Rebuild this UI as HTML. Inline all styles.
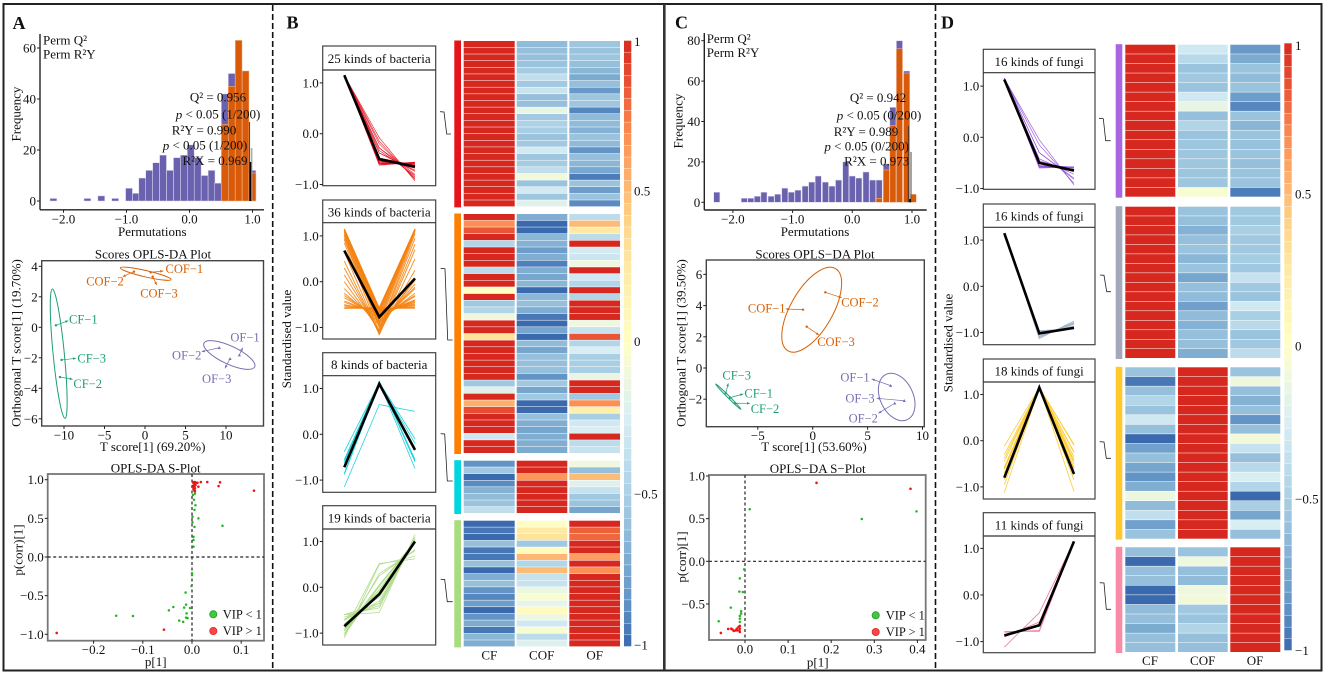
<!DOCTYPE html>
<html lang="en">
<head>
<meta charset="utf-8">
<title>OPLS-DA and clustering figure</title>
<style>
html,body{margin:0;padding:0;background:#fff;}
svg{display:block;font-family:"Liberation Serif",serif;filter:blur(0.3px);}
text{fill:#111;}
</style>
</head>
<body>
<svg id="fig" width="1325" height="675" viewBox="0 0 1325 675" xmlns="http://www.w3.org/2000/svg">
  <rect x="0" y="0" width="1325" height="675" fill="#fff"/>
  <rect x="3.5" y="4" width="1318" height="666.5" fill="none" stroke="#222" stroke-width="2"/>
  <rect x="663" y="4" width="2.6" height="666" fill="#333"/>
  <line x1="272.7" y1="5" x2="272.7" y2="670" stroke="#111" stroke-width="1.6" stroke-dasharray="6 3"/>
  <line x1="935.5" y1="5" x2="935.5" y2="670" stroke="#111" stroke-width="1.6" stroke-dasharray="6 3"/>
  <g id="panelA"></g>
  <g id="panelB"></g>
  <g id="panelC"></g>
  <g id="panelD"></g>
</svg>
<script>
/* ---------- Histogram data ---------- */
const histBinsA=[-2.16,-2.05,-1.94,-1.84,-1.73,-1.62,-1.51,-1.40,-1.29,-1.18,-1.07,-0.96,-0.85,-0.75,-0.64,-0.53,-0.42,-0.31,-0.20,-0.09,0.02,0.13,0.24,0.35,0.45,0.56,0.67,0.78,0.89,1.00];
const histQ2A=[1,0,0,0,0,1,0,2,0,1,0,5,3,9,12,15,18,12,17,18,22,17,10,12,7,42,50,0,0,12];
const histR2YA=[0,0,0,0,0,0,0,0,0,0,0,0,0,0,0,0,0,0,0,0,0,0,0,0,0,30,45,63,51,11];
const histBinsC=[-2.27,-2.15,-2.04,-1.93,-1.81,-1.70,-1.59,-1.48,-1.36,-1.25,-1.13,-1.02,-0.91,-0.79,-0.68,-0.57,-0.45,-0.34,-0.23,-0.11,0.00,0.11,0.23,0.34,0.45,0.57,0.68,0.79,0.91,1.02];
const histQ2C=[5,0,0,0,2,2,3,5,3,4,7,5,6,8,10,13,10,8,11,20,13,12,15,11,11,19,47,80,65,0];
const histR2YC=[0,0,0,0,0,0,0,0,0,0,0,0,0,0,0,0,0,0,0,0,0,0,0,0,2,16,38,76,64,4];
const histXTicks=[-2,-1,0,1];
const histYTicksA=[0,20,40,60];
const histYTicksC=[0,20,40,60,80];

/* ---------- Score plot data ---------- */
const sampleNames=["CF\u22121","CF\u22122","CF\u22123","COF\u22121","COF\u22122","COF\u22123","OF\u22121","OF\u22122","OF\u22123"];
const scoreTA=[-11.0,-10.5,-10.3,0.7,-1.36,0.95,11.65,9.17,10.5];
const scoreOA=[0.13,-3.26,-2.14,3.6,3.65,3.32,-1.82,-1.34,-2.06];
const scoreTC=[-7.53,-7.08,-7.92,-0.88,1.15,-0.55,7.1,7.47,8.34];
const scoreOC=[-1.9,-2.26,-1.62,3.74,4.85,2.65,-1.13,-2.26,-2.1];

/* ---------- S-plot data ---------- */
const sPlotRedXA=[-0.275,-0.057,0.126,0.054,0.057,0.031,0.018,0.011,0.013,0.002,0.003,0.004,0.005,0.006,0.007,0.008,0.003,0.004,0.005,0.006,0.003,0.004,0.005,0.006,0.004,0.005];
const sPlotRedYA=[-0.983,-0.94,0.858,0.918,0.966,0.97,0.97,0.96,0.91,0.97,0.96,0.95,0.94,0.97,0.93,0.96,0.92,0.91,0.9,0.89,0.88,0.87,0.86,0.85,0.95,0.93];
const sPlotGreenXA=[0.062,0.013,0.005,0.001,-0.154,-0.12,-0.047,-0.038,-0.013,-0.012,-0.016,-0.004,-0.011,-0.012,-0.009,-0.026,-0.018,-0.001,0,0,0.003,0.003,0.003,0.007,0.005,0.001,0.004,0.006,0.002];
const sPlotGreenYA=[0.405,0.5,0.39,0.45,-0.76,-0.763,-0.69,-0.647,-0.46,-0.616,-0.655,-0.66,-0.73,-0.785,-0.79,-0.823,-0.84,-0.375,-0.21,-0.235,0.134,0.26,0.22,0.67,0.61,0.52,0.74,0.82,0.8];
const sPlotRedXC=[0.166,0.384,-0.056,-0.039,-0.032,-0.029,-0.026,-0.022,-0.019,-0.015,-0.012,-0.012,-0.012,-0.013,-0.018];
const sPlotRedYC=[0.92,0.85,-0.84,-0.793,-0.79,-0.8,-0.816,-0.81,-0.79,-0.77,-0.758,-0.79,-0.828,-0.81,-0.81];
const sPlotGreenXC=[0.011,0.271,0.398,-0.002,-0.012,-0.013,-0.005,-0.033,-0.061,-0.009,-0.009,-0.012,-0.012,-0.012];
const sPlotGreenYC=[0.61,0.496,0.586,-0.094,-0.2,-0.355,-0.36,-0.543,-0.703,-0.586,-0.613,-0.64,-0.672,-0.71];

/* ---------- Heatmap rows: CF, COF, OF ---------- */
const heatColumns=["CF","COF","OF"];
const rowsB1=[[1.15,-0.62,-0.56],[1.15,-0.6,-0.58],[1.15,-0.6,-0.57],[1.15,-0.58,-0.6],[1.15,-0.52,-0.65],[1.15,-0.38,-0.72],[1.15,-0.54,-0.6],[1.15,-0.33,-0.82],[1.15,-0.6,-0.57],[1.15,-0.6,-0.56],[1.15,-0.15,-0.9],[1.15,-0.54,-0.63],[1.15,-0.48,-0.62],[1.15,-0.5,-0.68],[1.15,-0.58,-0.58],[1.15,-0.54,-0.63],[1.15,-0.28,-0.85],[1.15,-0.56,-0.6],[1.15,-0.52,-0.65],[1.15,-0.38,-0.74],[1.15,-0.08,-0.93],[1.15,-0.58,-0.58],[1.15,-0.28,-0.8],[1.15,-0.56,-0.58],[1.15,-0.2,-0.88]];
const rowsB2=[[1.1,-0.7,-0.4],[0.68,-1.15,0.5],[0.85,-1.1,0.25],[1.05,-0.65,-0.4],[-0.45,-0.68,1.13],[1.08,-0.8,-0.28],[1.02,-0.7,-0.32],[1.0,-0.92,-0.1],[-0.4,-0.7,1.12],[1.1,-0.75,-0.3],[1.1,-0.65,-0.45],[0.0,-1.05,1.0],[1.1,-0.65,-0.45],[-0.55,-0.6,1.15],[-0.45,-0.7,1.15],[-0.1,-0.95,1.05],[1.1,-1.0,-0.1],[1.12,-0.75,-0.35],[0.3,-1.15,0.85],[1.05,-0.62,-0.45],[1.05,-0.75,-0.25],[1.1,-0.6,-0.5],[1.1,-0.6,-0.5],[1.1,-0.6,-0.5],[1.05,-0.85,-0.15],[-0.55,-0.55,1.12],[-0.2,-0.75,1.0],[1.15,-0.55,-0.55],[0.55,-1.1,0.68],[0.88,-1.0,0.18],[1.1,-0.6,-0.5],[1.05,-0.7,-0.3],[1.05,-0.75,-0.25],[-0.3,-0.7,1.05],[1.13,-0.7,-0.4],[1.1,-0.72,-0.35]];
const rowsB3=[[-0.85,1.13,-0.1],[-0.55,1.15,-0.6],[-1.15,0.65,0.5],[-0.88,1.12,-0.2],[-0.68,1.15,-0.35],[-0.62,1.15,-0.55],[-0.58,1.15,-0.58],[-0.38,1.13,-0.75]];
const rowsB4=[[-1.0,0.02,1.0],[-0.95,0.25,0.82],[-1.05,0.3,0.8],[-0.6,-0.55,1.15],[-0.95,0.05,1.0],[-0.95,0.52,0.62],[-0.6,-0.45,1.1],[-1.1,0.5,0.68],[-0.7,-0.35,1.05],[-0.6,-0.35,1.0],[-0.85,-0.12,1.0],[-0.9,-0.05,1.0],[-0.8,-0.15,1.0],[-1.05,0.05,1.0],[-0.85,-0.1,1.0],[-0.72,-0.3,1.05],[-0.95,-0.05,1.0],[-0.65,-0.4,1.05],[-0.7,-0.22,1.0]];
const rowsD1=[[1.15,-0.3,-0.82],[1.15,-0.42,-0.72],[1.15,-0.58,-0.58],[1.15,-0.55,-0.62],[1.15,-0.58,-0.58],[1.15,-0.3,-0.8],[1.15,-0.15,-0.9],[1.15,-0.6,-0.58],[1.15,-0.46,-0.66],[1.15,-0.58,-0.58],[1.15,-0.56,-0.59],[1.15,-0.56,-0.58],[1.15,-0.56,-0.6],[1.15,-0.57,-0.58],[1.15,-0.56,-0.58],[1.15,-0.05,-0.93]];
const rowsD2=[[1.15,-0.58,-0.55],[1.15,-0.6,-0.55],[1.15,-0.68,-0.5],[1.15,-0.6,-0.55],[1.15,-0.58,-0.55],[1.15,-0.65,-0.52],[1.15,-0.58,-0.55],[1.15,-0.75,-0.35],[1.15,-0.6,-0.55],[1.15,-0.62,-0.58],[1.15,-0.78,-0.3],[1.15,-0.62,-0.5],[1.15,-0.68,-0.42],[1.15,-0.6,-0.58],[1.15,-0.6,-0.55],[1.15,-0.7,-0.4]];
const rowsD3=[[-0.58,1.15,-0.58],[-0.95,1.15,-0.1],[-0.6,1.15,-0.6],[-0.45,1.15,-0.68],[-0.58,1.15,-0.6],[-0.3,1.15,-0.85],[-0.6,1.15,-0.6],[-1.12,1.15,-0.08],[-0.78,1.15,-0.35],[-0.6,1.15,-0.6],[-0.75,1.15,-0.42],[-0.85,1.15,-0.25],[-0.7,1.15,-0.45],[-0.12,1.15,-1.1],[-0.62,1.15,-0.5],[-0.38,1.15,-0.75],[-0.78,1.15,-0.25],[-0.58,1.15,-0.6]];
const rowsD4=[[-0.6,-0.58,1.15],[-1.0,-0.1,1.15],[-0.6,-0.6,1.15],[-0.6,-0.62,1.15],[-1.0,-0.1,1.15],[-1.05,-0.08,1.15],[-0.62,-0.55,1.15],[-0.6,-0.58,1.15],[-0.72,-0.46,1.15],[-0.6,-0.6,1.15],[-0.6,-0.6,1.15]];

/* ---------- Trend lines where they differ from the heatmap rows ---------- */
const linesB2=[[1.15,-0.58,-0.58],[1.15,-0.58,-0.56],[1.15,-0.6,-0.55],[1.15,-0.65,-0.5],[1.15,-0.7,-0.45],[1.15,-0.75,-0.4],[1.12,-0.8,-0.32],[1.1,-0.85,-0.25],[1.05,-0.9,-0.15],[1.0,-0.95,-0.05],[0.92,-1.0,0.08],[0.85,-1.1,0.25],[0.65,-1.15,0.5],[0.45,-1.15,0.7],[0.3,-1.12,0.82],[0.15,-1.08,0.95],[0.0,-1.05,1.05],[-0.15,-0.95,1.1],[-0.25,-0.88,1.13],[-0.35,-0.78,1.15],[-0.45,-0.7,1.15],[-0.5,-0.65,1.15],[-0.55,-0.6,1.15],[-0.58,-0.58,1.15],[1.15,-0.65,-0.48],[1.15,-0.72,-0.42],[1.08,-0.78,-0.3],[1.13,-0.68,-0.45],[1.13,-0.62,-0.52],[1.1,-0.7,-0.4],[1.02,-0.88,-0.12],[0.95,-0.98,0.03],[-0.58,-0.56,1.15],[-0.52,-0.62,1.13],[-0.42,-0.72,1.14],[-0.3,-0.82,1.12]];
const linesD2=[[1.15,-1.13,-0.75],[1.15,-1.08,-0.8],[1.15,-1.05,-0.82],[1.15,-1.02,-0.86],[1.15,-1.0,-0.88],[1.15,-0.98,-0.9],[1.15,-0.96,-0.92],[1.15,-1.1,-0.78]];
const linesD4=[[-1.12,-0.38,1.15],[-0.78,-0.78,1.15],[-0.8,-0.76,1.15],[-0.9,-0.58,1.15]];
const meanB1=[1.15,-0.5,-0.65];
const meanB2=[0.68,-0.77,0.07];
const meanB3=[-0.72,1.1,-0.34];
const meanB4=[-0.85,-0.15,1.0];
const meanD1=[1.13,-0.5,-0.65];
const meanD2=[1.15,-1.02,-0.9];
const meanD3=[-0.8,1.15,-0.72];
const meanD4=[-0.87,-0.65,1.15];
const lineTicks=[1,0,-1];

/* ---------- Colour scale tick labels ---------- */
const colorbarTicks=[1,0.5,0,-0.5,-1];

/* ---------- helpers ---------- */
const NS='http://www.w3.org/2000/svg';
const fmt=s=>String(s).replace('-','\u2212');
function svgEl(tag,parent,attrs){
  const el=document.createElementNS(NS,tag);
  for(const k in attrs){el.setAttribute(k,attrs[k]);}
  parent.appendChild(el);
  return el;
}
function group(parent,name){
  const el=svgEl('g',parent,{});
  
  
  return el;
}
function line(parent,x1,y1,x2,y2,stroke,w,name,extra){
  const el=svgEl('line',parent,Object.assign({x1,y1,x2,y2,stroke,'stroke-width':w},extra||{}));
  
  
  return el;
}
function txt(parent,x,y,str,anchor,size,name,opts){
  opts=opts||{};
  const el=svgEl('text',parent,{x,y,'text-anchor':anchor,'font-size':size,'dominant-baseline':opts.base||'central'});
  if(opts.fill){el.style.fill=opts.fill;}
  if(opts.weight){el.setAttribute('font-weight',opts.weight);}
  if(opts.rotate){el.setAttribute('transform','rotate('+opts.rotate+' '+x+' '+y+')');}
  if(opts.html){el.innerHTML=str;}else{el.textContent=str;}
  
  
  return el;
}
function circle(parent,cx,cy,r,fill,name,extra){
  const el=svgEl('circle',parent,Object.assign({cx,cy,r,fill},extra||{}));
  
  
  return el;
}
function rect(parent,x,y,w,h,fill,name,extra){
  const el=svgEl('rect',parent,Object.assign({x,y,width:w,height:h,fill},extra||{}));
  
  
  return el;
}
function polyline(parent,pts,stroke,w,name,extra){
  const el=svgEl('polyline',parent,Object.assign({points:pts.map(p=>p.join(',')).join(' '),fill:'none',stroke,'stroke-width':w},extra||{}));
  
  
  return el;
}
function ellipse(parent,cx,cy,rx,ry,angle,stroke,name){
  const el=svgEl('ellipse',parent,{cx,cy,rx,ry,fill:'none',stroke,'stroke-width':1,transform:'rotate('+angle+' '+cx+' '+cy+')'});
  
  
  return el;
}
function arrowHead(parent,x0,y0,x1,y1,fill){
  const len=Math.hypot(x1-x0,y1-y0)||1, ux=(x1-x0)/len, uy=(y1-y0)/len, s=3;
  const d='M'+x1+' '+y1+'L'+(x1-ux*s-uy*1.3)+' '+(y1-uy*s+ux*1.3)+'L'+(x1-ux*s+uy*1.3)+' '+(y1-uy*s-ux*1.3)+'Z';
  const el=svgEl('path',parent,{d,fill});
  
  
  return el;
}

/* colour ramp */
const rampStops=[[-1,'#3a69ae'],[-0.85,'#6394c6'],[-0.7,'#80aed2'],[-0.55,'#a0c8e0'],[-0.4,'#bcdcec'],[-0.25,'#d9eef3'],[-0.1,'#eff8de'],[0,'#ffffc4'],[0.25,'#feeaa5'],[0.4,'#fed488'],[0.55,'#fdb06c'],[0.7,'#fb8a50'],[0.85,'#ea5535'],[1,'#d7281f']];
function hexRgb(h){return [parseInt(h.substr(1,2),16),parseInt(h.substr(3,2),16),parseInt(h.substr(5,2),16)];}
function heatColor(v){
  v=Math.max(-1,Math.min(1,v));
  for(let i=0;i<rampStops.length-1;i++){
    const a=rampStops[i],b=rampStops[i+1];
    if(v<=b[0]){
      const t=(v-a[0])/(b[0]-a[0]);
      const ca=hexRgb(a[1]),cb=hexRgb(b[1]);
      return 'rgb('+ca.map((c,j)=>Math.round(c+(cb[j]-c)*t)).join(',')+')';
    }
  }
  return rampStops[rampStops.length-1][1];
}

/* histogram */
function drawHist(parent,c){
  const g=group(parent,'permutation-histogram');
  const X=v=>c.x0+c.xu*v, Y=v=>c.y0-c.yu*v;
  const bw=c.binW;
  c.bins.forEach((b,i)=>{
    if(c.q2[i]>0){
      rect(g,X(b)-bw/2,Y(c.q2[i]),bw,Y(0)-Y(c.q2[i]),'#6a62ae','bar-perm-q2',{stroke:'#dcdaf0','stroke-width':0.5});
    }
  });
  c.bins.forEach((b,i)=>{
    if(c.r2y[i]>0){
      rect(g,X(b)-bw/2,Y(c.r2y[i]),bw,Y(0)-Y(c.r2y[i]),'#d95a08','bar-perm-r2y',{stroke:'#f2c3a0','stroke-width':0.5});
    }
  });
  c.refs.forEach(r=>{line(g,r[0],r[1],r[0],Y(0),r[2],r[3],'observed-value-line');});
  line(g,c.axisX,c.axisTop,c.axisX,c.axisY,'#222',1.4,'histogram-y-axis');
  line(g,c.axisX,c.axisY,c.axisR,c.axisY,'#222',1.4,'histogram-x-axis');
  c.xticks.forEach(t=>{
    line(g,X(t),c.axisY,X(t),c.axisY+3,'#222',1,'x-tick');
    txt(g,X(t),c.axisY+9,fmt(t.toFixed(1)),'middle',13,'x-tick-label');
  });
  c.yticks.forEach(t=>{
    line(g,c.axisX-3,Y(t),c.axisX,Y(t),'#222',1,'y-tick');
    txt(g,c.axisX-4,Y(t),String(t),'end',13,'y-tick-label');
  });
  txt(g,c.xLabel[0],c.xLabel[1],'Permutations','middle',13,'x-axis-title');
  txt(g,c.yLabel[0],c.yLabel[1],'Frequency','middle',13,'y-axis-title',{rotate:-90});
  txt(g,c.legend[0],c.legend[1],'Perm Q\u00b2','start',13,'legend-perm-q2');
  txt(g,c.legend[0],c.legend[1]+14,'Perm R\u00b2Y','start',13,'legend-perm-r2y');
  c.notes.forEach(n=>{
    const isP=n[0].indexOf('p ')===0;
    const s=isP?'<tspan font-style="italic">p</tspan>'+n[0].slice(1).replace('<','&lt;'):n[0];
    txt(g,n[1],n[2],s,'middle',13,'stat-annotation',{html:true});
  });
}

/* score plot */
function drawScores(parent,c){
  const g=group(parent,'scores-opls-da-plot');
  const X=v=>c.x0+c.xu*v, Y=v=>c.y0-c.yu*v;
  txt(g,c.title[0],c.title[1],c.titleText,'middle',13,'plot-title');
  rect(g,c.l,c.t,c.r-c.l,c.b-c.t,'none','plot-border',{stroke:'#444','stroke-width':1.4});
  c.xticks.forEach(t=>{
    line(g,X(t),c.b,X(t),c.b+3,'#222',1,'x-tick');
    txt(g,X(t),c.b+9,fmt(t),'middle',13,'x-tick-label');
  });
  c.yticks.forEach(t=>{
    line(g,c.l-3,Y(t),c.l,Y(t),'#222',1,'y-tick');
    txt(g,c.l-4,Y(t),fmt(t),'end',13,'y-tick-label');
  });
  txt(g,c.xLabel[0],c.xLabel[1],c.xText,'middle',13,'x-axis-title');
  txt(g,c.yLabel[0],c.yLabel[1],c.yText,'middle',13,'y-axis-title',{rotate:-90});
  const colours=['#1b9e77','#1b9e77','#1b9e77','#d95f02','#d95f02','#d95f02','#7570b3','#7570b3','#7570b3'];
  c.ellipses.forEach(e=>{ellipse(g,e[0],e[1],e[2],e[3],e[4],e[5],'confidence-ellipse');});
  c.names.forEach((n,i)=>{
    const px=X(c.t1[i]),py=Y(c.o1[i]);
    const lab=c.labels[i];
    line(g,px,py,lab[2],lab[3],colours[i],0.7,'sample-leader-line');
    arrowHead(g,px,py,lab[2],lab[3],colours[i]);
    if(i>=6){
      const el=svgEl('path',g,{d:'M'+(px-1.6)+' '+(py+1.3)+'L'+(px+1.6)+' '+(py+1.3)+'L'+px+' '+(py-1.6)+'Z',fill:colours[i]});
      
      
    }else{
      circle(g,px,py,1.2,colours[i],'sample-point');
    }
    txt(g,lab[0],lab[1],n,'middle',12.5,'sample-label',{fill:colours[i]});
  });
}

/* S-plot */
function drawSPlot(parent,c){
  const g=group(parent,'opls-da-s-plot');
  const X=v=>c.x0+c.xu*v, Y=v=>c.y0-c.yu*v;
  txt(g,c.title[0],c.title[1],c.titleText,'middle',13,'plot-title');
  rect(g,c.l,c.t,c.r-c.l,c.b-c.t,'none','plot-border',{stroke:'#777','stroke-width':1.8});
  line(g,c.l,Y(0),c.r,Y(0),'#222',1.2,'zero-line-horizontal',{'stroke-dasharray':'3 2.5'});
  line(g,X(0),c.t,X(0),c.b,'#222',1.2,'zero-line-vertical',{'stroke-dasharray':'3 2.5'});
  c.gx.forEach((v,i)=>{circle(g,X(v),Y(c.gy[i]),1.25,'#22b522','point-vip-below-1');});
  c.rx.forEach((v,i)=>{circle(g,X(v),Y(c.ry[i]),1.3,'#ee1515','point-vip-above-1');});
  c.xticks.forEach(t=>{
    line(g,X(t),c.b,X(t),c.b+3,'#222',1,'x-tick');
    txt(g,X(t),c.b+9,fmt(t.toFixed(1)),'middle',13,'x-tick-label');
  });
  c.yticks.forEach(t=>{
    line(g,c.l-3,Y(t),c.l,Y(t),'#222',1,'y-tick');
    txt(g,c.l-4,Y(t),fmt(t.toFixed(1)),'end',13,'y-tick-label');
  });
  txt(g,c.xLabel[0],c.xLabel[1],'p[1]','middle',13,'x-axis-title');
  txt(g,c.yLabel[0],c.yLabel[1],'p(corr)[1]','middle',13,'y-axis-title',{rotate:-90});
  circle(g,c.legend[0],c.legend[1],3.6,'#44c644','legend-marker-vip-below-1',{stroke:'#1e9e1e','stroke-width':0.8});
  txt(g,c.legend[2],c.legend[1],'VIP < 1','start',12.5,'legend-label-vip-below-1');
  circle(g,c.legend[0],c.legend[1]+16.7,3.6,'#f44848','legend-marker-vip-above-1',{stroke:'#e02a2a','stroke-width':0.8});
  txt(g,c.legend[2],c.legend[1]+16.7,'VIP > 1','start',12.5,'legend-label-vip-above-1');
}

/* line trend panel */
function drawTrend(parent,c){
  const g=group(parent,'trend-panel');
  const Y=v=>c.y0-c.yu*v;
  const X=i=>c.xs[i];
  rect(g,c.l,c.t,c.r-c.l,c.b-c.t,'#fff','trend-panel-border',{stroke:'#444','stroke-width':1.2});
  line(g,c.l,c.s,c.r,c.s,'#333',1.2,'trend-panel-strip-line');
  txt(g,(c.l+c.r)/2,(c.t+c.s)/2+0.5,c.title,'middle',13,'trend-panel-title');
  c.lines.forEach(v=>{
    polyline(g,v.map((d,i)=>[X(i),Y(d)]),c.color,c.lw,'member-line',{opacity:c.op});
  });
  polyline(g,c.mean.map((d,i)=>[X(i),Y(d)]),'#000',2.6,'mean-line',{'stroke-linejoin':'miter'});
  lineTicks.forEach(t=>{
    line(g,c.l-3,Y(t),c.l,Y(t),'#222',1,'y-tick');
    txt(g,c.l-4,Y(t),fmt(t.toFixed(1)),'end',13,'y-tick-label');
  });
}

/* heatmap */
function drawHeat(parent,c){
  const g=group(parent,'heatmap-cluster');
  const n=c.rows.length, h=(c.b-c.t)/n;
  rect(g,c.barX,c.t-0.5,c.barW,c.b-c.t+1,c.barColor,'cluster-color-bar');
  c.rows.forEach((row,i)=>{
    row.forEach((v,j)=>{
      rect(g,c.cols[j][0],c.t+i*h,c.cols[j][1],h-0.5,heatColor(v),'heatmap-cell');
    });
  });
}
function drawColorbar(parent,c){
  const g=group(parent,'color-scale');
  const steps=52, h=(c.b-c.t)/steps;
  for(let i=0;i<steps;i++){
    const v=1-2*(i+0.5)/steps;
    rect(g,c.x,c.t+i*h,c.w,h-0.4,heatColor(v),'color-scale-step');
  }
  colorbarTicks.forEach((t,i)=>{
    txt(g,c.lx,c.ly[i],fmt(t),'start',13,'color-scale-label');
  });
}
function bracket(parent,pts){
  polyline(parent,pts,'#222',0.8,'cluster-connector');
}

/* ---------- build ---------- */
const A=document.getElementById('panelA'),B=document.getElementById('panelB'),C=document.getElementById('panelC'),D=document.getElementById('panelD');

/* Panel A */
txt(A,12.5,29,'A','start',18,'panel-letter-a',{weight:'bold',base:'auto'});
drawHist(A,{bins:histBinsA,q2:histQ2A,r2y:histR2YA,x0:189.5,xu:63,y0:201,yu:2.55,binW:6.85,
  axisX:40,axisTop:34,axisY:209.8,axisR:264,xticks:histXTicks,yticks:histYTicksA,
  xLabel:[152.3,231.7],yLabel:[16,114],legend:[43,40],
  refs:[[249.6,122,'#333',0.9],[251.6,148,'#aaa',1.6],[250.4,162,'#000',1.8]],
  notes:[['Q\u00b2 = 0.956',218,97],['p < 0.05 (1/200)',218,114],['R\u00b2Y = 0.990',204,130],['p < 0.05 (1/200)',205,145],['R\u00b2X = 0.969',215,160.5]]});
drawScores(A,{titleText:'Scores OPLS-DA Plot',title:[153,254],l:41.7,r:263.5,t:260.7,b:426,x0:145,xu:8.1,y0:327.3,yu:15.25,
  xticks:[-10,-5,0,5,10],yticks:[4,2,0,-2,-4,-6],xText:'T score[1] (69.20%)',xLabel:[152.7,446.5],
  yText:'Orthogonal T score[1] (19.70%)',yLabel:[16,343],names:sampleNames,t1:scoreTA,o1:scoreOA,
  ellipses:[[58.7,353.7,5.6,65,-5.6,'#1b9e77'],[145.7,273.7,26,3.2,13,'#d95f02'],[229.3,355,28,9,25,'#7570b3']],
  labels:[[83.3,319.3,68.3,320.7],[87.7,384,72.7,379.3],[91.7,358.3,76,358.3],[184.3,269,163.3,271],[105,281.7,122.7,276.7],[159,293.3,156.7,285],[245,337.3,242.7,347.7],[186.7,355.3,201.7,351.7],[216.7,379,225,368.3]]});
drawSPlot(A,{titleText:'OPLS-DA S-Plot',title:[155.7,468],l:47.7,r:264,t:474,b:640.7,x0:192,xu:492,y0:557,yu:77.3,
  xticks:[-0.2,-0.1,0,0.1],yticks:[1,0.5,0,-0.5,-1],xLabel:[155.7,661.7],yLabel:[18,550],
  rx:sPlotRedXA,ry:sPlotRedYA,gx:sPlotGreenXA,gy:sPlotGreenYA,legend:[213.3,614.3,222.7]});

/* Panel B */
txt(B,286.5,28.5,'B','start',18,'panel-letter-b',{weight:'bold',base:'auto'});
txt(B,286.7,339,'Standardised value','middle',13,'y-axis-title',{rotate:-90});
const xsB=[344.3,379.3,415];
drawTrend(B,{l:322.7,r:435.7,t:46,s:70,b:185.7,y0:133.7,yu:50.8,xs:xsB,title:'25 kinds of bacteria',lines:rowsB1,mean:meanB1,color:'#e0101e',lw:0.65,op:0.9});
drawTrend(B,{l:322.7,r:435.7,t:200,s:222.7,b:339,y0:281.7,yu:45.8,xs:xsB,title:'36 kinds of bacteria',lines:linesB2,mean:meanB2,color:'#f5820f',lw:1,op:0.85});
drawTrend(B,{l:322.7,r:435.7,t:352.7,s:375.7,b:492.3,y0:434.3,yu:45.8,xs:xsB,title:'8 kinds of bacteria',lines:rowsB3,mean:meanB3,color:'#20d2da',lw:0.8,op:1});
drawTrend(B,{l:322.7,r:435.7,t:505.7,s:529,b:645,y0:587.3,yu:45.8,xs:xsB,title:'19 kinds of bacteria',lines:rowsB4,mean:meanB4,color:'#aedb88',lw:0.8,op:0.95});
const colsB=[[463.7,51],[516.7,50.6],[569.3,50.7]];
drawHeat(B,{rows:rowsB1,t:41,b:206.9,cols:colsB,barX:454.3,barW:6.7,barColor:'#e61418'});
drawHeat(B,{rows:rowsB2,t:214,b:453.5,cols:colsB,barX:454.3,barW:6.7,barColor:'#ff7f00'});
drawHeat(B,{rows:rowsB3,t:460.7,b:513.5,cols:colsB,barX:454.3,barW:6.7,barColor:'#00d5e0'});
drawHeat(B,{rows:rowsB4,t:520.7,b:646.9,cols:colsB,barX:454.3,barW:6.7,barColor:'#a9dc7e'});
drawColorbar(B,{x:624,w:7.3,t:40.7,b:646.7,lx:634,ly:[41.7,191,341.7,494,645]});
txt(B,489.3,655,heatColumns[0],'middle',13,'column-label-cf');
txt(B,541.7,655,heatColumns[1],'middle',13,'column-label-cof');
txt(B,594.7,655,heatColumns[2],'middle',13,'column-label-of');
bracket(B,[[440,111.7],[444,112],[446.7,134],[451,134]]);
bracket(B,[[440.7,268.3],[445,268.7],[447.7,340],[452.7,340]]);
bracket(B,[[440.7,433.7],[444.7,434],[447.3,481],[452.7,481]]);
bracket(B,[[440.7,579.3],[444.7,579.5],[447.3,601.7],[452.7,601.7]]);

/* Panel C */
txt(C,675,28.5,'C','start',18,'panel-letter-c',{weight:'bold',base:'auto'});
drawHist(C,{bins:histBinsC,q2:histQ2C,r2y:histR2YC,x0:852.3,xu:59.7,y0:202.3,yu:2.02,binW:6.1,
  axisX:704.3,axisTop:33,axisY:210,axisR:926.7,xticks:histXTicks,yticks:histYTicksC,
  xLabel:[815,231.7],yLabel:[678,121],legend:[706.7,38.5],
  refs:[[908.3,126,'#333',0.9],[911,152,'#666',1.2],[910,199,'#000',1.6]],
  notes:[['Q\u00b2 = 0.942',878,97.7],['p < 0.05 (0/200)',879,115],['R\u00b2Y = 0.989',866,131.7],['p < 0.05 (0/200)',866.7,146],['R\u00b2X = 0.973',876.7,161]]});
drawScores(C,{titleText:'Scores OPLS\u2212DA Plot',title:[815,254],l:706.3,r:924.3,t:260,b:426.7,x0:812.7,xu:10.98,y0:368,yu:15.6,
  xticks:[-5,0,5,10],yticks:[6,4,2,0,-2],xText:'T score[1] (53.60%)',xLabel:[814,446.7],
  yText:'Orthogonal T score[1] (39.50%)',yLabel:[681,343],names:sampleNames,t1:scoreTC,o1:scoreOC,
  ellipses:[[728.3,396.7,18,1,45,'#1b9e77'],[811.7,309.7,47.5,21,-60,'#d95f02'],[896.7,397,25,16.5,65,'#7570b3']],
  labels:[[758.7,393.3,743.3,394],[765,409,750,403.3],[736.7,375.7,728.3,383.3],[766.7,308.3,785.7,309],[860,302.3,841.7,297.7],[836,342,819,335],[855,377.7,871.7,379],[863.3,418.7,878.3,413.3],[860,398.7,876.7,398.3]]});
drawSPlot(C,{titleText:'OPLS\u2212DA S\u2212Plot',title:[817.7,468.3],l:709,r:925.7,t:475,b:640,x0:745,xu:431,y0:561.3,yu:85.3,
  xticks:[0,0.1,0.2,0.3,0.4],yticks:[1,0.5,0,-0.5],xLabel:[817.7,662],yLabel:[681.7,557],
  rx:sPlotRedXC,ry:sPlotRedYC,gx:sPlotGreenXC,gy:sPlotGreenYC,legend:[875.7,615.3,885.7]});

/* Panel D */
txt(D,941,28.5,'D','start',18,'panel-letter-d',{weight:'bold',base:'auto'});
txt(D,948,343,'Standardised value','middle',13,'y-axis-title',{rotate:-90});
const xsD=[1004.3,1039.3,1074];
drawTrend(D,{l:983.3,r:1095,t:49.3,s:72.7,b:189.3,y0:137.3,yu:51.2,xs:xsD,title:'16 kinds of fungi',lines:rowsD1,mean:meanD1,color:'#9350d8',lw:0.7,op:0.9});
drawTrend(D,{l:983.3,r:1095,t:204,s:227.3,b:344.7,y0:286.3,yu:46.2,xs:xsD,title:'16 kinds of fungi',lines:linesD2,mean:meanD2,color:'#9fb0c8',lw:0.8,op:1});
drawTrend(D,{l:983.3,r:1095,t:359,s:382,b:499,y0:440.7,yu:46.2,xs:xsD,title:'18 kinds of fungi',lines:rowsD3,mean:meanD3,color:'#fbc92a',lw:0.8,op:0.95});
drawTrend(D,{l:983.3,r:1095,t:512.7,s:536,b:652.7,y0:595,yu:46.6,xs:xsD,title:'11 kinds of fungi',lines:linesD4,mean:meanD4,color:'#f07a9e',lw:0.8,op:1});
const colsD=[[1125.3,50],[1178,49.7],[1230.3,50]];
drawHeat(D,{rows:rowsD1,t:44.7,b:197.2,cols:colsD,barX:1115.7,barW:6.6,barColor:'#a966e0'});
drawHeat(D,{rows:rowsD2,t:206.7,b:358.5,cols:colsD,barX:1115.7,barW:6.6,barColor:'#a3a9bb'});
drawHeat(D,{rows:rowsD3,t:367.3,b:539.2,cols:colsD,barX:1115.7,barW:6.6,barColor:'#ffc82c'});
drawHeat(D,{rows:rowsD4,t:547.3,b:652.5,cols:colsD,barX:1115.7,barW:6.6,barColor:'#fb8aa8'});
drawColorbar(D,{x:1284.3,w:7.4,t:43.3,b:650.7,lx:1295,ly:[45.7,194,346,499,650.7]});
txt(D,1150,660.7,heatColumns[0],'middle',13,'column-label-cf');
txt(D,1202.7,660.7,heatColumns[1],'middle',13,'column-label-cof');
txt(D,1255,660.7,heatColumns[2],'middle',13,'column-label-of');
bracket(D,[[1099,118.3],[1103.3,118.7],[1105.7,140.7],[1110.7,140.7]]);
bracket(D,[[1100,275],[1104,275.3],[1106.7,291.7],[1111,291.7]]);
bracket(D,[[1099.7,441.7],[1104,442],[1106.3,458.3],[1111,458.3]]);
bracket(D,[[1099.7,582.7],[1104,583],[1106.3,609.3],[1111,609.3]]);
</script>
</body>
</html>
